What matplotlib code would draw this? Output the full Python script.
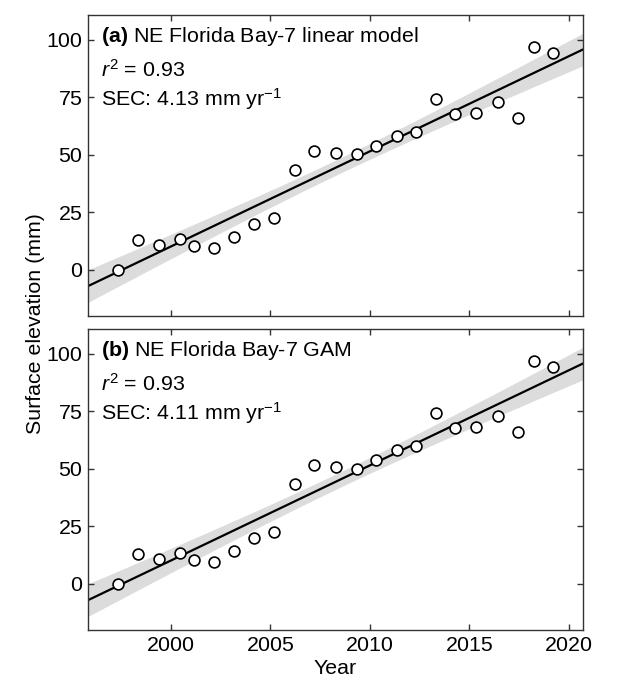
import numpy as np
import matplotlib
matplotlib.use("Agg")
from matplotlib import pyplot as plt

plt.rcParams['font.family'] = ['Liberation Sans', 'DejaVu Sans']
plt.rcParams['mathtext.fontset'] = 'custom'
plt.rcParams['mathtext.rm'] = 'Liberation Sans'
plt.rcParams['mathtext.it'] = 'Liberation Sans:italic'
plt.rcParams['mathtext.bf'] = 'Liberation Sans:bold'

# survey dates (decimal year) and surface elevation (mm)
years = [1997.35, 1998.36, 1999.40, 2000.44, 2001.16, 2002.18, 2003.15, 2004.15,
         2005.16, 2006.25, 2007.20, 2008.29, 2009.35, 2010.32, 2011.36, 2012.31,
         2013.33, 2014.26, 2015.31, 2016.42, 2017.44, 2018.24, 2019.21]
elev = [0.0, 12.9, 10.9, 13.4, 10.3, 9.4, 14.3, 20.1,
        22.6, 43.4, 51.8, 50.9, 50.1, 53.7, 58.2, 59.8,
        74.1, 67.7, 68.1, 72.8, 65.8, 96.9, 94.3]

titles = ["NE Florida Bay-7 linear model", "NE Florida Bay-7 GAM"]
tags = ["(a)", "(b)"]
r2 = ["0.93", "0.93"]
sec = ["4.13", "4.11"]

x = np.array(years)
y = np.array(elev)
n = len(x)
xlim = (1995.83, 2020.7)
xx = np.linspace(xlim[0], xlim[1], 200)

# OLS fit with 95% confidence band
b, a = np.polyfit(x, y, 1)
resid = y - (a + b * x)
s = np.sqrt(np.sum(resid ** 2) / (n - 2))
sxx = np.sum((x - x.mean()) ** 2)
se = s * np.sqrt(1.0 / n + (xx - x.mean()) ** 2 / sxx)
t = 2.08
fit = a + b * xx

fig = plt.figure(figsize=(6.41, 6.78), dpi=100)
boxes = [[0.1373, 0.534, 0.772, 0.444], [0.1373, 0.0708, 0.772, 0.444]]
fs = 15.4

for i in range(2):
  ax = fig.add_axes(boxes[i])
  ax.fill_between(xx, fit - t * se, fit + t * se, color='#dcdcdc', lw=0, zorder=1)
  ax.plot(xx, fit, color='black', lw=1.6, zorder=2)
  ax.plot(x, y, 'o', ms=7.8, mfc='white', mec='black', mew=1.2, zorder=3)
  ax.set_xlim(xlim)
  ax.set_ylim(-20, 110.7)
  ax.set_yticks([0, 25, 50, 75, 100])
  ax.set_xticks([2000, 2005, 2010, 2015, 2020])
  ax.tick_params(direction='in', length=4, width=1, top=True, right=True,
                 labelsize=fs, color='#333333', pad=4)
  for sp in ax.spines.values():
    sp.set_color('#333333')
    sp.set_linewidth(1.0)
  if i == 0:
    ax.set_xticklabels([])
  else:
    ax.set_xlabel("Year", fontsize=fs, labelpad=3)
  ax.text(0.026, 0.911, r"$\mathbf{" + tags[i] + "}$ " + titles[i], transform=ax.transAxes,
          fontsize=fs, va='baseline')
  ax.text(0.026, 0.795, r"$r^2$ = " + r2[i], transform=ax.transAxes,
          fontsize=fs, va='baseline')
  ax.text(0.026, 0.698, "SEC: " + sec[i] + r" mm yr$^{-1}$", transform=ax.transAxes,
          fontsize=fs, va='baseline')

fig.text(0.055, 0.523, "Surface elevation (mm)", rotation=90, fontsize=fs,
         ha='center', va='center')

plt.savefig("out.png", dpi=100)
